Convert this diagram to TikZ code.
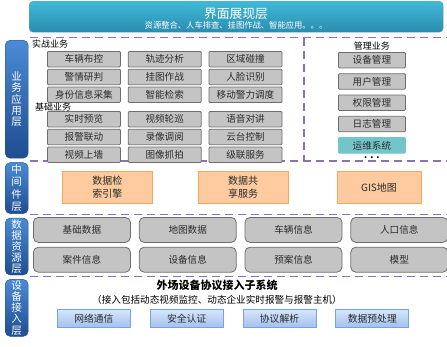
\documentclass[tikz,border=0pt]{standalone}
\usepackage{fontspec}
\setmainfont{Noto Sans CJK SC}
\usepackage{xcolor}
\usepackage{tikz}
\usetikzlibrary{positioning}
\definecolor{bannertop}{HTML}{41BAD9}
\definecolor{bannerbot}{HTML}{2A8CAD}
\definecolor{layertop}{HTML}{4B8BD5}
\definecolor{layerbot}{HTML}{1F4D90}
\definecolor{sepline}{HTML}{8E70B4}
\definecolor{boxgray}{HTML}{C4C4C4}
\definecolor{edgegray}{HTML}{6E6E6E}
\definecolor{textgray}{HTML}{2B2B2B}
\definecolor{midorange}{HTML}{FDCB9F}
\definecolor{edgeorange}{HTML}{F3A862}
\definecolor{devtop}{HTML}{D5E6FB}
\definecolor{devbot}{HTML}{A2C1EE}
\definecolor{edgeblue}{HTML}{7AA3DB}
\definecolor{opsteal}{HTML}{72C6CA}
\tikzset{
  sep/.style={sepline,line width=1.6pt,dash pattern=on 8pt off 5pt},
  layer/.style={rectangle,rounded corners=5pt,minimum width=23pt,inner sep=0pt,
    top color=layertop,bottom color=layerbot,draw=layerbot,text=white,
    align=center,font=\fontsize{10.5}{11.2}\selectfont},
  banner/.style={rectangle,rounded corners=4pt,inner sep=0pt,
    top color=bannertop,bottom color=bannerbot,draw=bannerbot!80},
  gbox/.style={rectangle,rounded corners=1pt,minimum width=73pt,
    minimum height=15.5pt,inner sep=0pt,fill=boxgray,draw=edgegray,
    line width=0.8pt,text=textgray,font=\fontsize{9.6}{11}\selectfont},
  obox/.style={rectangle,minimum width=90pt,minimum height=32pt,inner sep=0pt,
    fill=midorange,draw=edgeorange,line width=0.8pt,text=textgray,align=center,
    font=\fontsize{10}{12.5}\selectfont},
  dbox/.style={rectangle,rounded corners=5pt,minimum width=97pt,
    minimum height=25pt,inner sep=0pt,fill=boxgray,draw=edgegray,
    line width=0.8pt,text=textgray,font=\fontsize{9.6}{11}\selectfont},
  vbox/.style={rectangle,minimum width=73pt,minimum height=18pt,inner sep=0pt,
    top color=devtop,bottom color=devbot,draw=edgeblue,line width=0.8pt,
    text=textgray,font=\fontsize{9.8}{11}\selectfont},
  sec/.style={inner sep=0pt,text=black,font=\fontsize{9}{10}\selectfont},
}
\begin{document}
\begin{tikzpicture}[x=1pt,y=-1pt,
  mbox/.style={gbox,minimum width=67pt},
  hdr/.style={inner sep=0pt,text=white}]
\useasboundingbox (0,0) rectangle (447,346);

\node[banner,anchor=north west,minimum width=414pt,minimum height=31pt] (jmzx) at (29,1) {};
\node[hdr,font=\fontsize{12.8}{14}\selectfont] (jmzxt) at (236,13.5) {界面展现层};
\node[hdr,font=\fontsize{8.3}{9}\selectfont] (jmzxs) at (236,25) {资源整合、人车排查、挂图作战、智能应用。。。};

\node[layer,anchor=north west,minimum height=118pt] (ywyy) at (5,40) {业\\务\\应\\用\\层};
\node[layer,minimum height=51pt,below=4pt of ywyy,font=\fontsize{10.5}{12.5}\selectfont] (zjj) {中\\间\\件\\层};
\node[layer,minimum height=57pt,below=4pt of zjj] (sjzy) {数\\据\\资\\源\\层};
\node[layer,minimum height=57pt,below=4pt of sjzy] (sbjr) {设\\备\\接\\入\\层};

\draw[sep] (30,37.5) -- (447,37.5);
\draw[sep] (30,161) -- (447,161);
\draw[sep] (30,214.5) -- (447,214.5);
\draw[sep] (30,276.5) -- (447,276.5);
\draw[sep] (304,37.5) -- (304,161);

\node[sec,anchor=west] (szyw) at (32,44) {实战业务};
\node[gbox,anchor=north west] (clbk) at (47,51) {车辆布控};
\node[gbox,right=7pt of clbk] (gjfx) {轨迹分析};
\node[gbox,right=7pt of gjfx] (qypz) {区域碰撞};
\node[gbox,below=1.5pt of clbk] (jqyp) {警情研判};
\node[gbox,below=1.5pt of gjfx] (gtzz) {挂图作战};
\node[gbox,below=1.5pt of qypz] (rlsb) {人脸识别};
\node[gbox,below=1.5pt of jqyp] (sfxx) {身份信息采集};
\node[gbox,below=1.5pt of gtzz] (znjs) {智能检索};
\node[gbox,below=1.5pt of rlsb] (ydjl) {移动警力调度};

\node[sec,anchor=west] (jcyw) at (35,107) {基础业务};
\node[gbox,anchor=north west] (ssyl) at (47,111) {实时预览};
\node[gbox,right=7pt of ssyl] (splx) {视频轮巡};
\node[gbox,right=7pt of splx] (yydj) {语音对讲};
\node[gbox,below=1.5pt of ssyl] (bjld) {报警联动};
\node[gbox,below=1.5pt of splx] (lxdy) {录像调阅};
\node[gbox,below=1.5pt of yydj] (ytkz) {云台控制};
\node[gbox,below=1.5pt of bjld] (spsq) {视频上墙};
\node[gbox,below=1.5pt of lxdy] (txzp) {图像抓拍};
\node[gbox,below=1.5pt of ytkz] (jlfw) {级联服务};

\node[mbox,anchor=north west] (sbgl) at (338,52) {设备管理};
\node[sec,above=2pt of sbgl] (glyw) {管理业务};
\node[mbox,below=5pt of sbgl] (yhgl) {用户管理};
\node[mbox,below=5pt of yhgl] (qxgl) {权限管理};
\node[mbox,below=5pt of qxgl] (rzgl) {日志管理};
\node[mbox,below=5pt of rzgl,fill=opsteal,draw=opsteal] (ywxt) {运维系统};
\node[sec,below=3pt of ywxt,font=\fontsize{9}{10}\selectfont\bfseries] (gldd) {.\,\,.\,\,.};

\node[obox,anchor=north west] (sjjs) at (62,171) {数据检\\索引擎};
\node[obox,right=45pt of sjjs] (sjgx) {数据共\\享服务};
\node[obox,right=48pt of sjgx,minimum width=84pt] (gis) {GIS地图};

\node[dbox,anchor=north west] (jcsj) at (33,217) {基础数据};
\node[dbox,right=8pt of jcsj] (dtsj) {地图数据};
\node[dbox,right=8pt of dtsj] (clxx) {车辆信息};
\node[dbox,right=8pt of clxx] (rkxx) {人口信息};
\node[dbox,below=4pt of jcsj] (ajxx) {案件信息};
\node[dbox,below=4pt of dtsj] (sbxx) {设备信息};
\node[dbox,below=4pt of clxx] (yaxx) {预案信息};
\node[dbox,below=4pt of rkxx] (mx) {模型};

\node[inner sep=0pt,font=\fontsize{11}{12}\selectfont\bfseries] (wcsb) at (217,285) {外场设备协议接入子系统};
\node[inner sep=0pt,font=\fontsize{9.6}{11}\selectfont,below=4pt of wcsb] (jrbk) {（接入包括动态视频监控、动态企业实时报警与报警主机）};
\node[vbox,anchor=north west] (wltx) at (57,309) {网络通信};
\node[vbox,right=19pt of wltx] (aqrz) {安全认证};
\node[vbox,right=19pt of aqrz] (xyjx) {协议解析};
\node[vbox,right=19pt of xyjx] (sjycl) {数据预处理};
\end{tikzpicture}
\end{document}
